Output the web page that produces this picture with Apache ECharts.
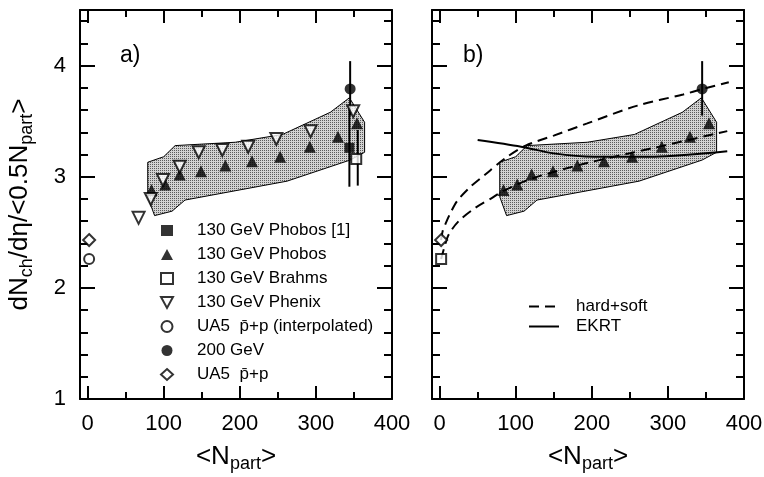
<!DOCTYPE html>
<html>
<head>
<meta charset="utf-8">
<script src="https://cdn.jsdelivr.net/npm/echarts@6/dist/echarts.min.js"></script>
<style>
  html, body { margin: 0; padding: 0; background: #fff; }
  #chart { width: 764px; height: 477px; }
</style>
</head>
<body>
<div id="chart"></div>
<script>
// values (x = <Npart>, y = dNch/deta/<0.5Npart>)
var phobos = [[84, 2.88], [102, 2.93], [121, 3.02], [149, 3.05], [181, 3.10], [216, 3.14], [253, 3.18], [292, 3.27], [329, 3.36], [354, 3.48]];
var phenix = [[67, 2.63], [83, 2.80], [99, 2.97], [121, 3.09], [146, 3.22], [177, 3.24], [211, 3.27], [248, 3.34], [293, 3.41], [349, 3.59]];
var phobos1 = [[344, 3.26]];
var brahms = [[353, 3.16]];
var ua5Interp = [[2, 2.26]];
var gev200 = [[345, 3.79]];
var ua5 = [[2, 2.43]];
// error bars: x, low, high
var phobos1Err = [[344, 2.91, 3.61]];
var brahmsErr = [[355, 2.92, 3.42]];
var gev200Err = [[345, 3.55, 4.04]];
// systematic band outline
var band = [[79, 3.13], [100, 3.18], [115, 3.28], [194, 3.31], [256, 3.38], [319, 3.58], [344, 3.71], [364, 3.49], [364, 3.22], [345, 3.15], [262, 2.96], [128, 2.79], [111, 2.69], [88, 2.65], [79, 2.82]];
// model curves (panel b)
var hardSoft200 = [[2, 2.43], [4, 2.51], [8, 2.58], [14, 2.67], [23, 2.78], [39, 2.90], [60, 3.02], [87, 3.17], [113, 3.28], [150, 3.37], [194, 3.48], [260, 3.64], [320, 3.74], [346, 3.79], [380, 3.85]];
var hardSoft130 = [[2, 2.26], [6, 2.36], [12, 2.48], [25, 2.60], [47, 2.72], [69, 2.81], [83, 2.87], [120, 2.98], [186, 3.11], [282, 3.26], [378, 3.41]];
var ekrt = [[50, 3.33], [107, 3.27], [150, 3.21], [203, 3.18], [282, 3.18], [330, 3.20], [378, 3.23]];

var xMajor = [0, 100, 200, 300, 400];
var xMinor = [50, 150, 250, 350];
var yMajor = [1, 2, 3, 4];
var yMinor = [1.2, 1.4, 1.6, 1.8, 2.2, 2.4, 2.6, 2.8, 3.2, 3.4, 3.6, 3.8, 4.2, 4.4];

var FONT = 'Liberation Sans, Arial, sans-serif';

// stipple fill for the band
var pat = document.createElement('canvas');
pat.width = 2; pat.height = 2;
var pctx = pat.getContext('2d');
pctx.fillStyle = '#d2d2d2'; pctx.fillRect(0, 0, 2, 2);
pctx.fillStyle = '#5a5a5a'; pctx.fillRect(0, 0, 1, 1);
var bandFill = { image: pat, repeat: 'repeat' };

var chart = echarts.init(document.getElementById('chart'));

var grids = [
    { left: 80, top: 10, width: 312, height: 389, outerBoundsMode: 'none' },
    { left: 432, top: 10, width: 312, height: 389, outerBoundsMode: 'none' }
];

var subRich = {
    m: { fontSize: 26, fontFamily: FONT, color: '#000' },
    s: { fontSize: 18, fontFamily: FONT, color: '#000', padding: [15, 0, 0, 0] }
};

var xAxes = [], yAxes = [];
function addAxes(g, labels) {
    var line = { show: true, onZero: false, lineStyle: { color: '#000', width: 2 } };
    var noLine = { show: false, onZero: false };
    ['bottom', 'top'].forEach(function (pos) {
        xAxes.push({
            gridIndex: g, type: 'value', min: -10, max: 400, position: pos,
            axisLine: line, splitLine: { show: false },
            axisTick: { inside: true, length: 13, customValues: xMajor, lineStyle: { color: '#000', width: 2 } },
            axisLabel: pos === 'bottom' ? { customValues: xMajor, fontSize: 22, color: '#000', fontFamily: FONT, margin: 14 } : { show: false },
            name: pos === 'bottom' ? '{m|<N}{s|part}{m|>}' : '',
            nameLocation: 'middle', nameGap: 41,
            nameTextStyle: { rich: subRich }
        });
        xAxes.push({
            gridIndex: g, type: 'value', min: -10, max: 400, position: pos,
            axisLine: noLine, splitLine: { show: false },
            axisTick: { inside: true, length: 7, customValues: xMinor, lineStyle: { color: '#000', width: 2 } },
            axisLabel: { show: false }
        });
    });
    ['left', 'right'].forEach(function (pos) {
        var lab = labels && pos === 'left';
        yAxes.push({
            gridIndex: g, type: 'value', min: 1, max: 4.5, position: pos,
            axisLine: line, splitLine: { show: false },
            axisTick: { inside: true, length: 15, customValues: yMajor, lineStyle: { color: '#000', width: 2 } },
            axisLabel: lab ? { customValues: yMajor, fontSize: 22, color: '#000', fontFamily: FONT, margin: 14 } : { show: false },
            name: lab ? '{m|dN}{s|ch}{m|/dη/<0.5N}{s|part}{m|>}' : '',
            nameLocation: 'middle', nameGap: 44, nameRotate: 90,
            nameTextStyle: { rich: subRich }
        });
        yAxes.push({
            gridIndex: g, type: 'value', min: 1, max: 4.5, position: pos,
            axisLine: noLine, splitLine: { show: false },
            axisTick: { inside: true, length: 8, customValues: yMinor, lineStyle: { color: '#000', width: 2 } },
            axisLabel: { show: false }
        });
    });
}
addAxes(0, true);
addAxes(1, false);

function bandSeries(g) {
    return {
        type: 'custom', xAxisIndex: g * 4, yAxisIndex: g * 4, z: 1,
        data: [[0, 0]], silent: true,
        renderItem: function (params, api) {
            var pts = band.map(function (p) { return api.coord(p); });
            return { type: 'polygon', shape: { points: pts }, style: { fill: bandFill, stroke: '#000', lineWidth: 1 } };
        }
    };
}

function errSeries(g, rows) {
    return {
        type: 'custom', xAxisIndex: g * 4, yAxisIndex: g * 4, z: 3, silent: true,
        data: rows,
        renderItem: function (params, api) {
            var a = api.coord([api.value(0), api.value(1)]);
            var b = api.coord([api.value(0), api.value(2)]);
            return { type: 'line', shape: { x1: a[0], y1: a[1], x2: b[0], y2: b[1] }, style: { stroke: '#000', lineWidth: 2 } };
        }
    };
}

function pts(g, name, data, symbol, size, open, rot) {
    return {
        type: 'scatter', name: name, xAxisIndex: g * 4, yAxisIndex: g * 4, z: 5,
        data: data, symbol: symbol, symbolSize: size, symbolRotate: rot || 0,
        itemStyle: open ? { color: '#fff', borderColor: '#000', borderWidth: 2 } : { color: '#000' },
        emphasis: { disabled: true }
    };
}

function curve(name, data, dashed) {
    return {
        type: 'line', name: name, xAxisIndex: 4, yAxisIndex: 4, z: 4,
        data: data, showSymbol: false, symbol: 'none', smooth: 0.3,
        lineStyle: { color: '#000', width: 2, type: dashed ? [10, 6] : 'solid' },
        itemStyle: { color: '#000' },
        emphasis: { disabled: true }
    };
}

var n = {
    p1: '130 GeV Phobos [1]', p: '130 GeV Phobos', b: '130 GeV Brahms', ph: '130 GeV Phenix',
    ui: 'UA5  p\u0304+p (interpolated)', g2: '200 GeV', u: 'UA5  p\u0304+p'
};

var series = [
    bandSeries(0),
    errSeries(0, phobos1Err.concat(brahmsErr, gev200Err)),
    pts(0, n.p1, phobos1, 'rect', 10, false),
    pts(0, n.p, phobos, 'triangle', 12, false),
    pts(0, n.b, brahms, 'rect', 10, true),
    pts(0, n.ph, phenix, 'triangle', 12, true, 180),
    pts(0, n.ui, ua5Interp, 'circle', 10, true),
    pts(0, n.g2, gev200, 'circle', 11, false),
    pts(0, n.u, ua5, 'diamond', 12, true),

    bandSeries(1),
    curve('hard+soft', hardSoft200, true),
    curve('hard+soft', hardSoft130, true),
    curve('EKRT', ekrt, false),
    errSeries(1, gev200Err),
    pts(1, n.p, phobos, 'triangle', 12, false),
    pts(1, 'pp 130', ua5Interp, 'rect', 10, true),
    pts(1, n.u, ua5, 'diamond', 12, true),
    pts(1, n.g2, gev200, 'circle', 11, false)
];

chart.setOption({
    animation: false,
    backgroundColor: '#fff',
    grid: grids,
    xAxis: xAxes,
    yAxis: yAxes,
    legend: [{
        data: [n.p1, n.p, n.b, { name: n.ph, icon: 'path://M0,0L12,0L6,11Z' }, n.ui, n.g2, n.u],
        orient: 'vertical', left: 155, top: 217,
        itemWidth: 12, itemHeight: 11, itemGap: 7,
        selectedMode: false,
        itemStyle: { borderWidth: 2 },
        textStyle: { fontSize: 17, fontFamily: FONT, color: '#000', padding: [0, 0, 0, 19] }
    }, {
        data: ['hard+soft', 'EKRT'],
        orient: 'vertical', left: 523, top: 293,
        itemWidth: 30, itemHeight: 12, itemGap: 3,
        selectedMode: false,
        itemStyle: { opacity: 0 },
        textStyle: { fontSize: 17, fontFamily: FONT, color: '#000', padding: [0, 0, 0, 12] }
    }],
    graphic: [
        { type: 'text', left: 120, top: 44, style: { text: 'a)', font: '23px ' + FONT, fill: '#000' } },
        { type: 'text', left: 463, top: 44, style: { text: 'b)', font: '23px ' + FONT, fill: '#000' } }
    ],
    series: series
});
</script>
</body>
</html>
